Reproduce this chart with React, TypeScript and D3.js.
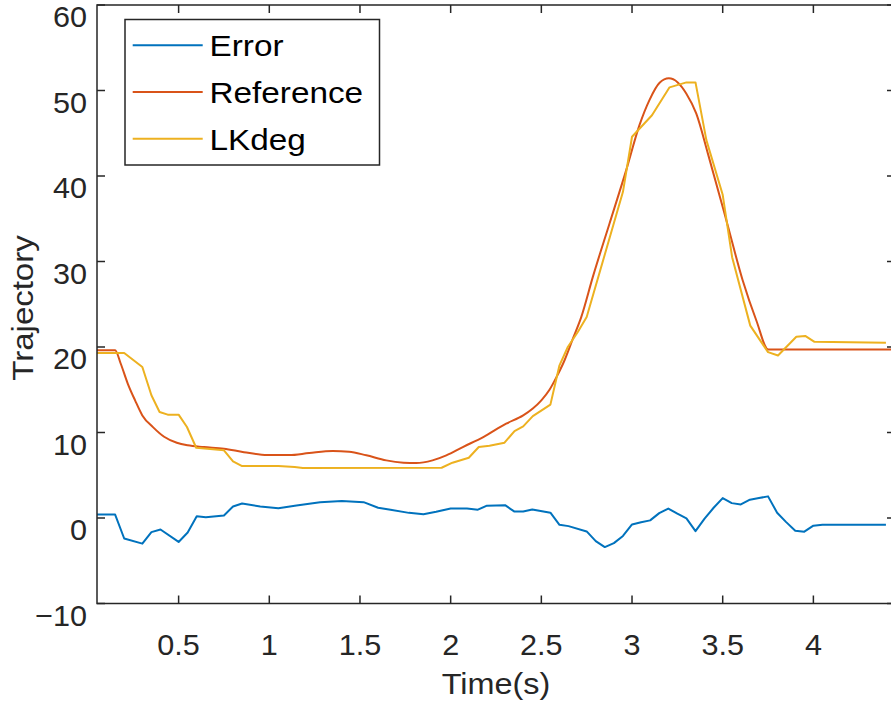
import React from "react";
import * as d3 from "d3";

const W = 891;
const H = 707;

const xTicks = [0.5, 1, 1.5, 2, 2.5, 3, 3.5, 4];
const yTicks = [-10, 0, 10, 20, 30, 40, 50, 60];
const xDomain: [number, number] = [0.05, 4.45];
const yDomain: [number, number] = [-10, 60];

const seriesNames = ["Error", "Reference", "LKdeg"];
const seriesColors = ["#0072BD", "#D95319", "#EDB120"];

const errorData: [number, number][] = [
  [0.05, 0.4], [0.15, 0.4], [0.2, -2.4], [0.3, -3.0], [0.35, -1.65], [0.4, -1.35],
  [0.5, -2.8], [0.55, -1.7], [0.6, 0.2], [0.65, 0.1], [0.75, 0.3], [0.8, 1.35],
  [0.85, 1.7], [0.95, 1.35], [1.05, 1.15], [1.15, 1.45], [1.28, 1.85], [1.4, 1.98],
  [1.52, 1.85], [1.6, 1.2], [1.66, 1.0], [1.77, 0.6], [1.85, 0.45], [1.92, 0.73],
  [2.0, 1.12], [2.09, 1.1], [2.15, 0.97], [2.2, 1.44], [2.3, 1.5], [2.35, 0.77],
  [2.4, 0.77], [2.45, 1.0], [2.55, 0.62], [2.6, -0.8], [2.65, -0.95], [2.75, -1.57],
  [2.8, -2.7], [2.85, -3.4], [2.9, -2.94], [2.95, -2.1], [3.0, -0.75], [3.05, -0.5],
  [3.1, -0.28], [3.15, 0.57], [3.2, 1.1], [3.25, 0.5], [3.3, -0.05], [3.35, -1.54],
  [3.4, -0.08], [3.45, 1.2], [3.5, 2.33], [3.55, 1.74], [3.6, 1.59], [3.65, 2.14],
  [3.7, 2.33], [3.75, 2.53], [3.8, 0.62], [3.85, -0.48], [3.9, -1.49], [3.95, -1.6],
  [4.0, -0.9], [4.05, -0.79], [4.4, -0.79],
];

const referenceData: [number, number][] = [
  [0.05, 19.62], [0.15, 19.62], [0.18, 18.1], [0.22, 15.7], [0.26, 13.76], [0.3, 12.0],
  [0.36, 10.6], [0.42, 9.5], [0.49, 8.8], [0.55, 8.5], [0.64, 8.3], [0.75, 8.1],
  [0.86, 7.7], [0.99, 7.36], [1.11, 7.36], [1.22, 7.6], [1.35, 7.83], [1.44, 7.76],
  [1.535, 7.33], [1.645, 6.74], [1.74, 6.47], [1.81, 6.42], [1.9, 6.74], [1.976, 7.33],
  [2.067, 8.3], [2.18, 9.47], [2.306, 11.03], [2.4, 12.0], [2.453, 12.8], [2.5, 13.76],
  [2.545, 15.0], [2.582, 16.42], [2.628, 18.45], [2.674, 20.98], [2.72, 23.5],
  [2.784, 28.2], [2.876, 34.45], [2.968, 40.69], [3.041, 45.95], [3.096, 48.88],
  [3.152, 50.9], [3.203, 51.42], [3.252, 50.95], [3.299, 49.66], [3.354, 47.32],
  [3.42, 42.5], [3.52, 34.83], [3.61, 27.81], [3.685, 23.13], [3.752, 19.7], [4.45, 19.7],
];

const lkdegData: [number, number][] = [
  [0.05, 19.3], [0.2, 19.3], [0.3, 17.66], [0.35, 14.35], [0.395, 12.4], [0.44, 12.09],
  [0.5, 12.09], [0.546, 10.64], [0.597, 8.22], [0.75, 7.91], [0.8, 6.62], [0.85, 6.07],
  [1.05, 6.07], [1.14, 5.96], [1.185, 5.84], [1.95, 5.88], [2.01, 6.47], [2.1, 7.05],
  [2.155, 8.3], [2.214, 8.45], [2.297, 8.81], [2.352, 10.17], [2.4, 10.72], [2.453, 11.92],
  [2.55, 13.26], [2.6, 17.86], [2.646, 20.0], [2.701, 21.76], [2.75, 23.5], [2.95, 38.15],
  [3.0, 44.59], [3.11, 47.1], [3.207, 50.37], [3.3, 50.95], [3.35, 50.95], [3.41, 44.2],
  [3.5, 37.8], [3.552, 30.5], [3.652, 22.5], [3.75, 19.4], [3.805, 19.0], [3.906, 21.2],
  [3.955, 21.3], [4.006, 20.6], [4.4, 20.5],
];

const allSeries = [errorData, referenceData, lkdegData];
const smoothSeries = [false, true, false];

const left = 97;
const right = 895;
const top = 5;
const bottom = 603.5;

export default function App() {
  const x = d3.scaleLinear().domain(xDomain).range([left, right]);
  const y = d3.scaleLinear().domain(yDomain).range([bottom, top]);
  const linearLine = d3
    .line<[number, number]>()
    .x((d) => x(d[0]))
    .y((d) => y(d[1]));
  const smoothLine = d3
    .line<[number, number]>()
    .x((d) => x(d[0]))
    .y((d) => y(d[1]))
    .curve(d3.curveMonotoneX);

  const axisColor = "#262626";
  const font = "'Liberation Sans', Arial, Helvetica, sans-serif";
  const tickLen = 8;

  return (
    <svg
      width={W}
      height={H}
      style={{ position: "absolute", left: 0, top: 0, background: "#fff" }}
      fontFamily={font}
    >
      <rect x={0} y={0} width={W} height={H} fill="#fff" />
      <defs>
        <clipPath id="plotclip">
          <rect x={left} y={top} width={right - left} height={bottom - top} />
        </clipPath>
      </defs>

      <g clipPath="url(#plotclip)">
        {allSeries.map((s, i) => (
          <path
            key={i}
            d={(smoothSeries[i] ? smoothLine(s) : linearLine(s)) || ""}
            fill="none"
            stroke={seriesColors[i]}
            strokeWidth={2}
            strokeLinejoin="round"
          />
        ))}
      </g>

      {/* axes box */}
      <rect
        x={left}
        y={top}
        width={right - left}
        height={bottom - top}
        fill="none"
        stroke={axisColor}
        strokeWidth={1.5}
      />

      {/* x ticks */}
      {xTicks.map((t) => (
        <g key={"x" + t}>
          <line x1={x(t)} x2={x(t)} y1={bottom} y2={bottom - tickLen} stroke={axisColor} strokeWidth={1.5} />
          <line x1={x(t)} x2={x(t)} y1={top} y2={top + tickLen} stroke={axisColor} strokeWidth={1.5} />
          <text
            transform={`translate(${x(t)},${bottom + 51.5}) scale(1.02,1)`}
            textAnchor="middle"
            fontSize={30}
            fill={axisColor}
          >
            {String(t)}
          </text>
        </g>
      ))}

      {/* y ticks */}
      {yTicks.map((t) => (
        <g key={"y" + t}>
          <line x1={left} x2={left + tickLen} y1={y(t)} y2={y(t)} stroke={axisColor} strokeWidth={1.5} />
          <line x1={right} x2={right - tickLen} y1={y(t)} y2={y(t)} stroke={axisColor} strokeWidth={1.5} />
          <text
            transform={`translate(${87},${y(t) + 22}) scale(1.02,1)`}
            textAnchor="end"
            fontSize={30}
            fill={axisColor}
          >
            {t < 0 ? "\u2212" + Math.abs(t) : String(t)}
          </text>
        </g>
      ))}

      {/* axis labels */}
      <text
        transform={`translate(${496},${694}) scale(1.08,1)`}
        textAnchor="middle"
        fontSize={30}
        fill={axisColor}
      >
        Time(s)
      </text>
      <text
        transform={`translate(${33},${308}) rotate(-90) scale(1.1,1)`}
        textAnchor="middle"
        fontSize={30}
        fill={axisColor}
      >
        Trajectory
      </text>

      {/* legend */}
      <rect x={125} y={19.5} width={254.5} height={145.5} fill="#fff" stroke={axisColor} strokeWidth={1.5} />
      {seriesNames.map((name, i) => {
        const ly = 45.3 + i * 46.7;
        return (
          <g key={name}>
            <line x1={132.7} x2={202.7} y1={ly} y2={ly} stroke={seriesColors[i]} strokeWidth={2} />
            <text
              transform={`translate(${209.5},${ly + 11}) scale(1.11,1)`}
              fontSize={30}
              fill="#000"
            >
              {name}
            </text>
          </g>
        );
      })}
    </svg>
  );
}
